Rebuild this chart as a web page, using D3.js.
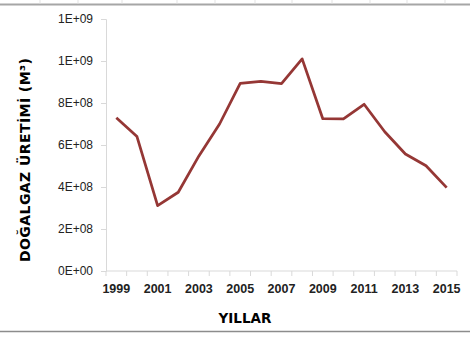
<!DOCTYPE html>
<html><head><meta charset="utf-8">
<script src="https://cdn.jsdelivr.net/npm/d3@7"></script>
<style>body{margin:0;background:#fff}svg{display:block}</style>
</head><body>
<svg id="c" width="470" height="340"></svg>
<script>
const years = ["1999","2000","2001","2002","2003","2004","2005","2006","2007","2008","2009","2010","2011","2012","2013","2014","2015"];
const production = [7.30e8,6.40e8,3.11e8,3.75e8,5.48e8,7.00e8,8.94e8,9.03e8,8.92e8,1.01e9,7.25e8,7.24e8,7.94e8,6.63e8,5.57e8,5.01e8,3.97e8];
const yTicks = [0,2e8,4e8,6e8,8e8,1e9,1.2e9];
const yTickLabels = ["0E+00","2E+08","4E+08","6E+08","8E+08","1E+09","1E+09"];
const xLabelYears = ["1999","2001","2003","2005","2007","2009","2011","2013","2015"];
const yTitle = "DOĞALGAZ ÜRETİMİ  (M³)";
const xTitle = "YILLAR";

const svg = d3.select("#c");
const mLeft = 106, mRight = 457, mTop = 19, mBottom = 271;

// decorative frame lines
svg.append("line").attr("x1",0).attr("x2",470).attr("y1",4.5).attr("y2",4.5).attr("stroke","#a6a6a6").attr("stroke-width",2);
svg.append("line").attr("x1",0).attr("x2",470).attr("y1",331.5).attr("y2",331.5).attr("stroke","#8c8c8c").attr("stroke-width",1.5);
[40,78,122,177,215,255,292,332,370,407,445].forEach(xx=>{
  svg.append("line").attr("x1",xx).attr("x2",xx).attr("y1",0).attr("y2",3.5).attr("stroke","#e3e3e3");
});

const x = d3.scaleBand().domain(years).range([mLeft,mRight]);
const y = d3.scaleLinear().domain([0,1.2e9]).range([mBottom,mTop]);

// y axis
const yAxis = svg.append("g").attr("transform",`translate(${mLeft},0)`)
  .call(d3.axisLeft(y).tickValues(yTicks).tickSize(5).tickPadding(8)
    .tickFormat((d,i)=>yTickLabels[i]));
yAxis.select(".domain").attr("stroke","#d9d9d9");
yAxis.selectAll(".tick line").attr("stroke","#d9d9d9");
yAxis.selectAll("text").attr("font-family","Liberation Sans, Arial, sans-serif").attr("font-size",12).attr("fill","#222");

// x axis with ticks between categories
const xg = svg.append("g").attr("transform",`translate(0,${mBottom})`);
xg.append("line").attr("x1",mLeft).attr("x2",mRight).attr("stroke","#d9d9d9");
const bounds = years.map(d=>x(d)).concat([mRight]);
xg.selectAll("line.tk").data(bounds).enter().append("line").attr("class","tk")
  .attr("x1",d=>d).attr("x2",d=>d).attr("y1",0).attr("y2",5).attr("stroke","#d9d9d9");
xg.selectAll("text").data(xLabelYears).enter().append("text")
  .attr("x",d=>x(d)+x.bandwidth()/2).attr("y",22)
  .attr("text-anchor","middle")
  .attr("font-family","Liberation Sans, Arial, sans-serif").attr("font-size",12.5).attr("font-weight",700).attr("fill","#222")
  .text(d=>d);

// line
const line = d3.line().x((d,i)=>x(years[i])+x.bandwidth()/2).y(d=>y(d));
svg.append("path").datum(production).attr("d",line).attr("fill","none")
  .attr("stroke","#953735").attr("stroke-width",2.75).attr("stroke-linejoin","round");

// titles
svg.append("text").attr("x",245).attr("y",323).attr("text-anchor","middle")
  .attr("font-family","DejaVu Sans, sans-serif").attr("font-weight",900).attr("font-size",13.5).attr("fill","#000").text(xTitle);
svg.append("text").attr("transform","translate(30,160) rotate(-90)").attr("text-anchor","middle")
  .attr("font-family","DejaVu Sans, sans-serif").attr("font-weight",900).attr("font-size",14).attr("fill","#000")
  .attr("textLength",204).attr("lengthAdjust","spacing").text(yTitle);
</script>
</body></html>
